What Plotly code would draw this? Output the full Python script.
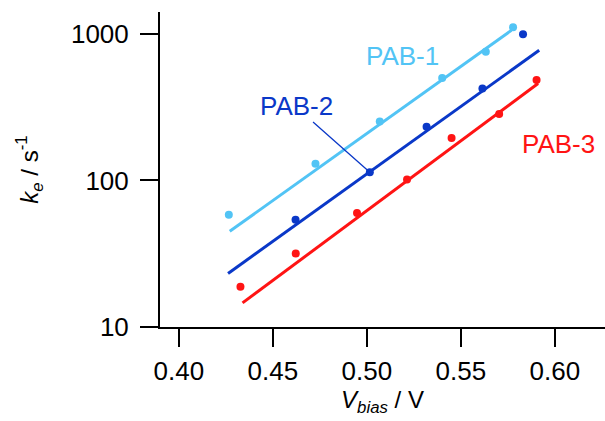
import math
import plotly.graph_objects as go

# Data
pab1_v = [0.4266, 0.4727, 0.5069, 0.5401, 0.5633, 0.5778]
pab1_k = [58.4, 130, 253, 500, 755, 1110]
pab1_fit_v = [0.4271, 0.5769]
pab1_fit_k = [45, 1059]

pab2_v = [0.4621, 0.5016, 0.5318, 0.5615, 0.5831]
pab2_k = [54.0, 114, 233, 425, 995]
pab2_fit_v = [0.4262, 0.5917]
pab2_fit_k = [23.2, 774]

pab3_v = [0.4328, 0.4622, 0.4948, 0.5214, 0.5451, 0.5704, 0.5903]
pab3_k = [18.8, 31.7, 60.0, 101.6, 195, 284, 486]
pab3_fit_v = [0.4339, 0.5911]
pab3_fit_k = [14.6, 459]

x_ticks = [0.40, 0.45, 0.50, 0.55, 0.60]
x_tick_labels = ["0.40", "0.45", "0.50", "0.55", "0.60"]
y_ticks = [10, 100, 1000]
y_tick_labels = ["10", "100", "1000"]

C1 = "#52C4F5"
C2 = "#0A38C8"
C3 = "#FF1414"
FONT = "Liberation Sans, Arial, sans-serif"
FS = 26
FT = 24

fig = go.Figure()
for fv, fk, v, k, c in [
    (pab1_fit_v, pab1_fit_k, pab1_v, pab1_k, C1),
    (pab2_fit_v, pab2_fit_k, pab2_v, pab2_k, C2),
    (pab3_fit_v, pab3_fit_k, pab3_v, pab3_k, C3),
]:
    fig.add_trace(go.Scatter(x=fv, y=fk, mode="lines", line=dict(color=c, width=3), showlegend=False, hoverinfo="skip"))
    fig.add_trace(go.Scatter(x=v, y=k, mode="markers", marker=dict(color=c, size=8), showlegend=False))

# annotation positions on the log axis are given in log10 units
fig.add_annotation(x=0.5188, y=2.850, xref="x", yref="y", text="PAB-1", showarrow=False,
                   font=dict(size=FS, color=C1, family=FONT))
fig.add_annotation(x=pab2_v[1], y=math.log10(pab2_k[1]), xref="x", yref="y",
                   ax=0.4706, ay=2.408, axref="x", ayref="y",
                   text="", showarrow=True, arrowhead=0, arrowwidth=1.3, arrowcolor=C2, standoff=0)
fig.add_annotation(x=0.4626, y=2.510, xref="x", yref="y", text="PAB-2", showarrow=False,
                   font=dict(size=FS, color=C2, family=FONT))
fig.add_annotation(x=0.6018, y=2.250, xref="x", yref="y", text="PAB-3", showarrow=False,
                   font=dict(size=FS, color=C3, family=FONT))

fig.update_layout(
    width=605, height=421,
    margin=dict(l=160, r=0, t=12, b=94, autoexpand=False),
    plot_bgcolor="white", paper_bgcolor="white",
    font=dict(family=FONT, size=FS, color="black"),
    xaxis=dict(
        range=[0.39, 0.6267], tickvals=x_ticks, ticktext=x_tick_labels, automargin=False,
        showline=True, linecolor="black", linewidth=2, ticks="outside", ticklen=18, tickwidth=2,
        tickcolor="black", showgrid=False, zeroline=False, ticklabelstandoff=2,
        title=dict(text="<i>V</i><sub><i>bias</i></sub> / V", font=dict(size=FT), standoff=2),
    ),
    yaxis=dict(
        type="log", range=[1, 3.15], tickvals=y_ticks, ticktext=y_tick_labels, automargin=False,
        showline=True, linecolor="black", linewidth=2, ticks="outside", ticklen=18, tickwidth=2,
        tickcolor="black", showgrid=False, zeroline=False, ticklabelstandoff=6,
        title=dict(text="<i>k</i><sub><i>e</i></sub> / s<sup>-1</sup>", font=dict(size=FT), standoff=26),
    ),
)

fig.write_html("out.html", config={"displayModeBar": False},
               post_script="document.body.style.margin='0';document.body.style.overflow='hidden';")
